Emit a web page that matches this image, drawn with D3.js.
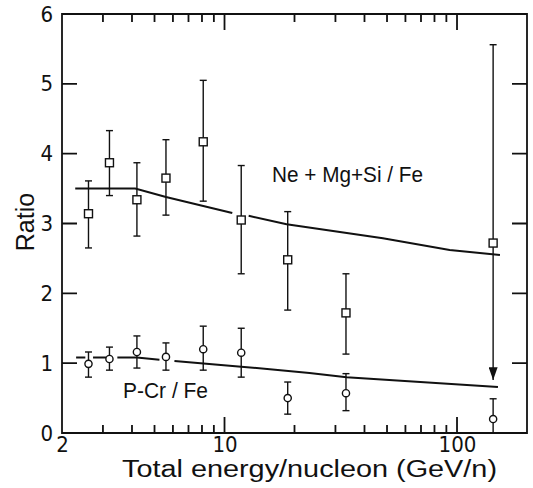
<!DOCTYPE html>
<html lang="en">
<head>
<meta charset="utf-8">
<title>Ratio vs total energy per nucleon</title>
<style>
body { margin: 0; background: #fff; }
svg { display: block; }
.ticklbl text { font: 22px "DejaVu Sans Condensed", "Liberation Sans Narrow", sans-serif; fill: #111; }
.curve { fill: none; stroke: #111; stroke-width: 2; }
.err { stroke: #111; stroke-width: 1.4; }
.mark { fill: #fff; stroke: #111; stroke-width: 1.4; }
.lbl { font-family: "Liberation Sans", "Helvetica", sans-serif; fill: #111; }
</style>
</head>
<body>
<svg width="533" height="488"></svg>

<script src="https://cdn.jsdelivr.net/npm/d3@7"></script>
<script>

// energy of each measurement (GeV/n), same for both ratios
const energy = [2.6, 3.2, 4.2, 5.6, 8.1, 11.8, 18.7, 33.3, 143];

// Ne+Mg+Si/Fe (squares)
const neRatio = [3.14, 3.87, 3.34, 3.65, 4.17, 3.05, 2.48, 1.72, 2.72];
const neHi    = [3.61, 4.33, 3.87, 4.20, 5.05, 3.83, 3.17, 2.28, 5.56];
const neLo    = [2.65, 3.40, 2.82, 3.12, 3.32, 2.28, 1.76, 1.13, 0.76];
const neArrow = 8;   // last point: lower bar drawn as an arrow

// P-Cr/Fe (circles)
const pcrRatio = [0.99, 1.06, 1.16, 1.09, 1.20, 1.15, 0.50, 0.57, 0.20];
const pcrHi    = [1.16, 1.23, 1.39, 1.29, 1.53, 1.50, 0.73, 0.85, 0.49];
const pcrLo    = [0.80, 0.90, 0.93, 0.90, 0.90, 0.80, 0.27, 0.32, 0.00];

// model curves (null = break in the drawn line)
const neCurveE = [2.28, 4.13, 5.6, 10.8, null, 12.7, 18.5, 48, 93, 153];
const neCurveR = [3.50, 3.50, 3.38, 3.15, null, 3.11, 2.99, 2.79, 2.62, 2.55];
const pcrCurveE = [2.3, 2.52, null, 2.72, 3.10, null, 3.46, 4.2, 5.25, null, 6.09, 11.8, 23.2, 33.5, 150];
const pcrCurveR = [1.08, 1.08, null, 1.08, 1.08, null, 1.08, 1.08, 1.05, null, 1.03, 0.95, 0.86, 0.80, 0.66];

// axis ticks
const xMajor = [10, 100];
const xMinor = [3, 4, 5, 6, 7, 8, 9, 20, 30, 40, 50, 60, 70, 80, 90];
const xLabels = [2, 10, 100];
const yTicks = [1, 2, 3, 4, 5];
const yLabels = [0, 1, 2, 3, 4, 5, 6];

var svg = d3.select("svg"),
    plot = {left: 62, right: 527, top: 14, bottom: 433};

let x = d3.scaleLog().domain([2, 200]).range([plot.left, plot.right]);
let y = d3.scaleLinear().domain([0, 6]).range([plot.bottom, plot.top]);

// frame with inward tick marks, built as one path
let p = d3.path();
p.rect(plot.left, plot.top, plot.right - plot.left, plot.bottom - plot.top);
xMinor.map(v => [v, 8]).concat(xMajor.map(v => [v, 16])).forEach(t => {
  let px = x(t[0]);
  p.moveTo(px, plot.bottom); p.lineTo(px, plot.bottom - t[1]);
  p.moveTo(px, plot.top); p.lineTo(px, plot.top + t[1]);
});
yTicks.forEach(v => {
  p.moveTo(plot.left, y(v)); p.lineTo(plot.left + 15, y(v));
  p.moveTo(plot.right, y(v)); p.lineTo(plot.right - 15, y(v));
});
svg.append("path")
  .attr("d", p.toString())
  .attr("fill", "none").attr("stroke", "#111").attr("stroke-width", 1.8);

// tick labels
function labelAxis(tr, ax) {
  let g = svg.append("g").attr("class", "ticklbl").attr("transform", tr).call(ax);
  g.select(".domain").remove();
  return g;
}
labelAxis("translate(0," + plot.bottom + ")", d3.axisBottom(x).tickValues(xLabels).tickSize(0).tickPadding(3).tickFormat(d3.format("d")));
labelAxis("translate(" + plot.left + ",0)", d3.axisLeft(y).tickValues(yLabels).tickSize(0).tickPadding(9).tickFormat(d3.format("d")));

// model curves
let curve = d3.line()
  .defined(d => d[0] !== null)
  .x(d => x(d[0])).y(d => y(d[1]));

svg.append("path").attr("class", "curve")
  .attr("d", curve(neCurveE.map((e, i) => [e, neCurveR[i]])));
svg.append("path").attr("class", "curve")
  .attr("d", curve(pcrCurveE.map((e, i) => [e, pcrCurveR[i]])));

// arrow head
svg.append("defs").append("marker")
  .attr("id", "arr")
  .attr("viewBox", "0 0 10 14")
  .attr("refX", 5).attr("refY", 14)
  .attr("markerWidth", 9).attr("markerHeight", 13)
  .attr("markerUnits", "userSpaceOnUse")
  .attr("orient", "0")
  .append("path").attr("d", "M0,0 L10,0 L5,14 Z").attr("fill", "#111");

function errBars(ratio, hi, lo, arrowIdx) {
  let g = svg.append("g");
  let pts = energy.map((e, i) => ({e: e, v: ratio[i], hi: hi[i], lo: lo[i], i: i}));
  g.selectAll("line.stem").data(pts).enter().append("line")
    .attr("class", "err")
    .attr("x1", d => x(d.e)).attr("x2", d => x(d.e))
    .attr("y1", d => y(d.hi)).attr("y2", d => y(d.lo))
    .attr("marker-end", d => d.i === arrowIdx ? "url(#arr)" : null);
  g.selectAll("line.capHi").data(pts).enter().append("line")
    .attr("class", "err")
    .attr("x1", d => x(d.e) - 3.5).attr("x2", d => x(d.e) + 3.5)
    .attr("y1", d => y(d.hi)).attr("y2", d => y(d.hi));
  g.selectAll("line.capLo").data(pts.filter(d => d.i !== arrowIdx && d.lo > 0)).enter().append("line")
    .attr("class", "err")
    .attr("x1", d => x(d.e) - 3.5).attr("x2", d => x(d.e) + 3.5)
    .attr("y1", d => y(d.lo)).attr("y2", d => y(d.lo));
  return pts;
}

let nePts = errBars(neRatio, neHi, neLo, neArrow);
let pcrPts = errBars(pcrRatio, pcrHi, pcrLo, -1);

svg.append("g").selectAll("rect").data(nePts).enter().append("rect")
  .attr("class", "mark")
  .attr("x", d => x(d.e) - 4).attr("y", d => y(d.v) - 4)
  .attr("width", 8).attr("height", 8);

svg.append("g").selectAll("circle").data(pcrPts).enter().append("circle")
  .attr("class", "mark")
  .attr("cx", d => x(d.e)).attr("cy", d => y(d.v))
  .attr("r", 3.6);

// series labels
svg.append("text").attr("class", "lbl")
  .attr("x", 272).attr("y", 182)
  .attr("font-size", 22)
  .attr("textLength", 151).attr("lengthAdjust", "spacingAndGlyphs")
  .text("Ne + Mg+Si / Fe");
svg.append("text").attr("class", "lbl")
  .attr("x", 123).attr("y", 398)
  .attr("font-size", 22)
  .attr("textLength", 85).attr("lengthAdjust", "spacingAndGlyphs")
  .text("P-Cr / Fe");

// axis titles
svg.append("text").attr("class", "lbl")
  .attr("transform", "translate(34,222) rotate(-90)")
  .attr("text-anchor", "middle")
  .attr("font-size", 25)
  .text("Ratio");
svg.append("text").attr("class", "lbl")
  .attr("x", 122).attr("y", 477)
  .attr("font-size", 23)
  .attr("textLength", 375).attr("lengthAdjust", "spacingAndGlyphs")
  .text("Total energy/nucleon (GeV/n)");

</script>
</body>
</html>
